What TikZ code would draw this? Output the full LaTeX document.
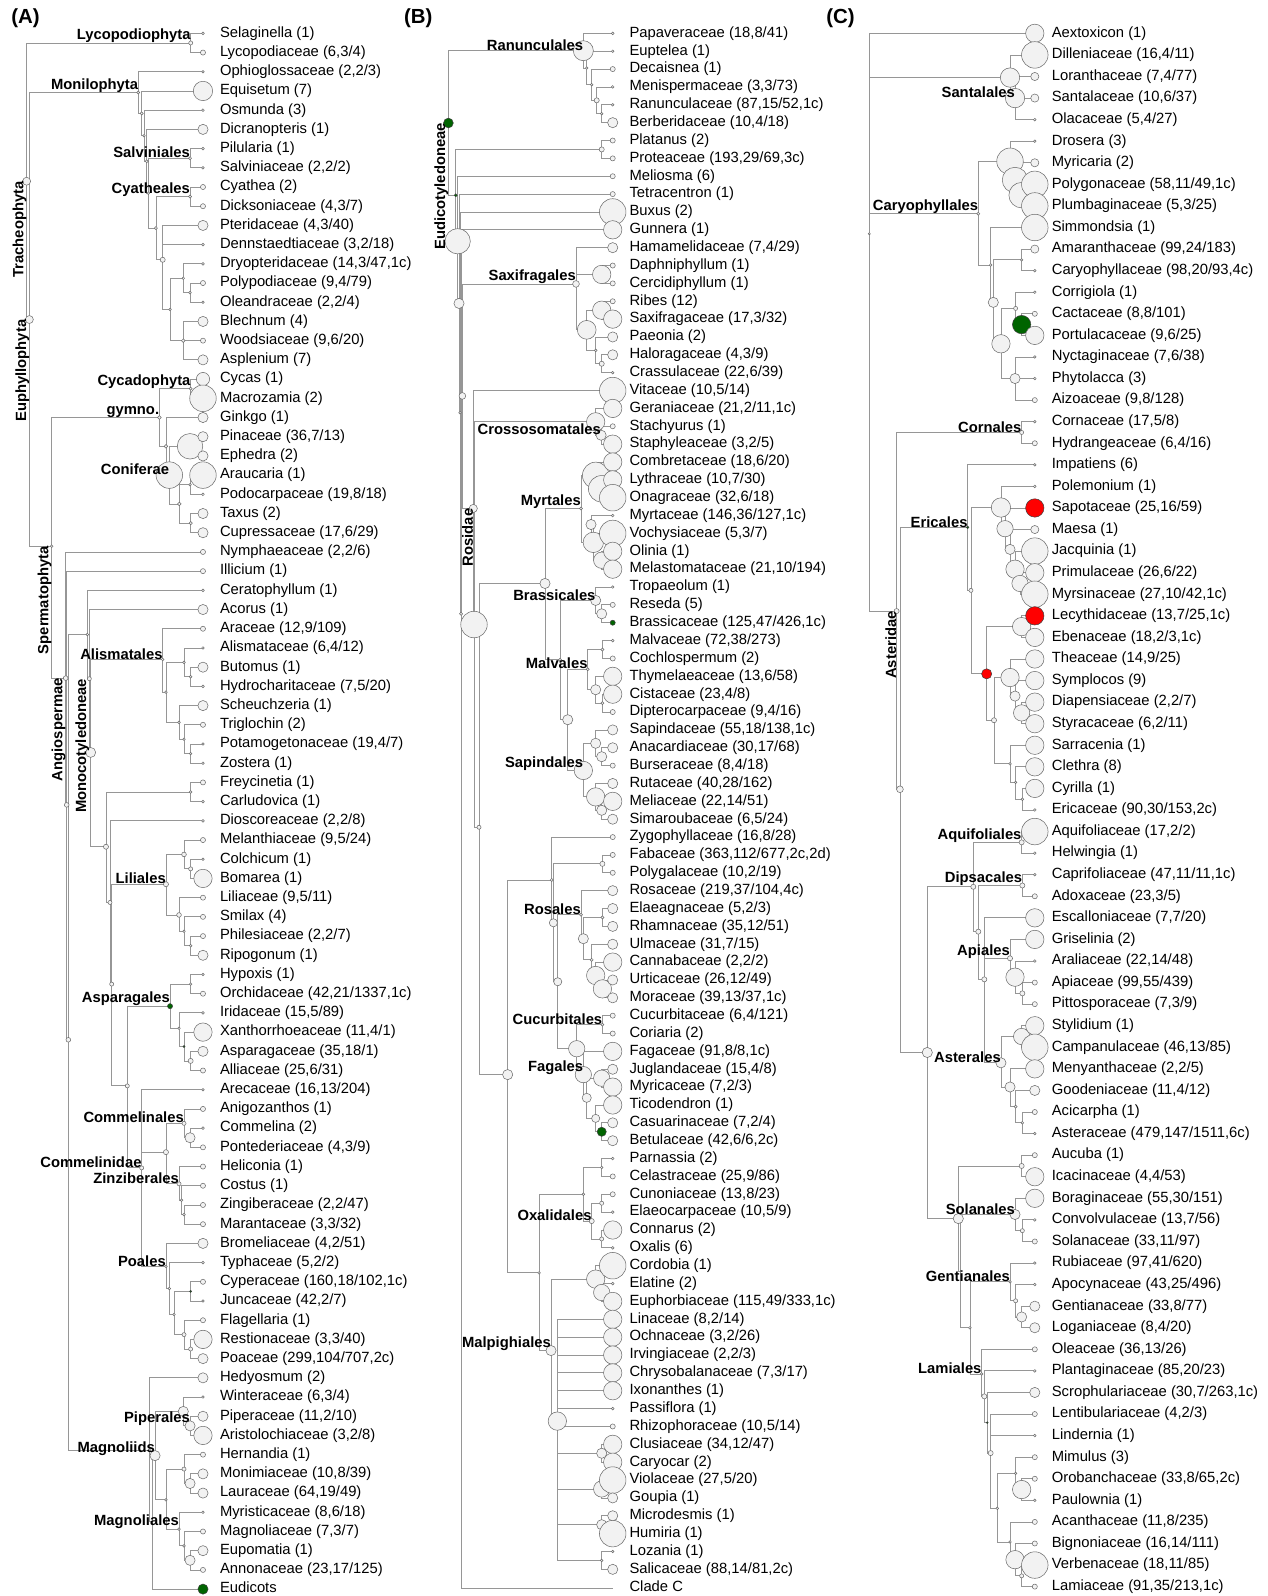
\documentclass[tikz,border=0pt]{standalone}
\usepackage{fontspec}
\setmainfont{Liberation Sans}
\pgfdeclarelayer{bgw}
\pgfdeclarelayer{edges}
\pgfsetlayers{bgw,edges,main}
\definecolor{brc}{RGB}{150,150,150}
\definecolor{dotc}{RGB}{105,105,105}
\definecolor{dotf}{RGB}{242,242,242}
\definecolor{dkg}{RGB}{0,100,0}
\definecolor{rd}{RGB}{255,0,0}
\tikzset{
 dot/.style={circle,draw=dotc,fill=dotf,line width=0.5pt,inner sep=0pt,outer sep=0pt},
 gr/.style={fill=dkg,draw=black!75},
 rdd/.style={fill=rd,draw=black!75},
 br/.style={draw=brc,line width=0.8pt},
 lt/.style={anchor=west,inner sep=0pt,text height=10.5pt,text depth=3pt,font=\fontsize{14.5}{16}\selectfont},
 cl/.style={inner sep=0pt,font=\bfseries\fontsize{14.5}{16}\selectfont},
 pl/.style={font=\bfseries\fontsize{20}{22}\selectfont}
}
\newcommand\In[5][]{\node[dot,minimum size={2*(#5)*1pt},#1] (#2) at (#3,{\ya+(#4)*\yd}) {};}
\newcommand\Lf[5][]{\node[dot,minimum size={2*(#4)*1pt},#1] (#2) at (\lx,{\ya+(#3)*\yd}) {};\node[lt] at (\tx,{\ya+(#3)*\yd}) {#5};}
\newcommand\Ed[2]{\foreach \ch in {#2}{\draw[br] (#1.center) |- (\ch.center);}}
\newcommand\Cl[2]{\node[cl,anchor=south east] at (#1.center) {#2};}
\newcommand\Cr[2]{\node[cl,rotate=90,anchor=south east] at (#1.center) {#2};}
\begin{document}
\begin{tikzpicture}[x=1pt,y=-1pt]
\begin{pgfonlayer}{bgw}
\fill[white] (0,0) rectangle (1243.1,1564.7);
\end{pgfonlayer}
\path[use as bounding box] (0,0) rectangle (1243.1,1564.7);
\node[pl] (pA) at (25,18) {(A)};
\node[pl] (pB) at (410,18) {(B)};
\node[pl] (pC) at (824,18) {(C)};
% ================= PANEL A =================
\def\ya{32.7}\def\yd{18.83}\def\lx{199}\def\tx{215.5}
\In{aTra}{26.1}{7.7}{3.9}
\In{aLyc}{187}{0.5}{2}
\In{aEup}{28.8}{14.9}{3.9}
\In{aMon}{135.6}{3.08}{1.5}
\In{aNe}{138.9}{4.17}{1.5}
\In{aNc}{141.2}{5.33}{1.3}
\In{aNb}{143.8}{6.66}{1.5}
\In{aNa}{145.4}{8.32}{1.3}
\In{aSal}{186.3}{6.5}{1.5}
\In{aNf}{152.9}{10.14}{1.5}
\In{aCya}{186.3}{8.5}{1.5}
\In{aNg}{159.5}{11.79}{2.5}
\In{aNh}{166.7}{14.375}{1.3}
\In{aNi}{179.7}{12.75}{1.3}
\In{aNj}{186.3}{13.5}{1.3}
\In{aNk}{179.7}{16}{1.8}
\In{aSpe}{50.7}{26.7}{1.3}
\In{aGym}{156.2}{20}{1.8}
\In{aCyc}{186.9}{18.5}{1.5}
\In{aNcon}{162.7}{21.5}{1.8}
\In{aCon}{166}{23}{13}
\In{aPE}{186.3}{21.5}{12.5}
\In{aZ}{175.8}{24.5}{1.8}
\In{aAP}{186.3}{23.5}{1.3}
\In{aTC}{187}{25.5}{1.5}
\In{aAng}{64.4}{33.57}{2.3}
\In{aN1}{65.4}{40.17}{2.3}
\In{aN2}{67}{52.4}{2.3}
\In{aC1}{85.6}{31.3}{1.3}
\In{aMono}{87.6}{33.6}{2}
\In{aM1}{88.9}{37.44}{4.9}
\In{aAli}{159.5}{32.6}{1.3}
\In{aA1}{162.7}{34.3}{1.3}
\In{aA2}{180.4}{32.75}{1.3}
\In{aA4}{186.9}{33.5}{1.3}
\In{aA3}{175.5}{35.875}{1.3}
\In{aA5}{180.4}{36.75}{1.3}
\In{aA6}{186.9}{37.5}{1.3}
\In{aM2}{103.9}{42.35}{2.5}
\In{aP1}{186.9}{39.5}{1.3}
\In{aM3}{107.8}{45.25}{2}
\In{aM4}{109.5}{49.5}{2}
\In{aLil}{162.7}{44.3}{2.5}
\In{aL1}{180.4}{42.75}{2.3}
\In{aL1b}{186.9}{43.5}{2}
\In{aL2}{175.5}{45.9}{2.3}
\In{aL2b}{180.4}{46.75}{1.3}
\In{aL2c}{186.9}{47.5}{1.3}
\In{aN382}{124.8}{54.8}{2}
\In[gr]{aAsp}{166.7}{50.65}{2.5}
\In{aAs1}{186.9}{49.5}{1.3}
\In{aAs2}{175.5}{51.8}{1.3}
\In[gr]{aAs3}{180.4}{52.75}{1}
\In{aAs4}{186.9}{53.5}{2.5}
\In{aCom}{138.9}{59.07}{2}
\In{aCm1}{162.7}{58.25}{2.5}
\In{aCml}{180.4}{56.75}{2}
\In{aCm2}{186.3}{57.5}{5}
\In{aZin}{175.5}{59.9}{2}
\In{aZ1}{178}{60.75}{1.3}
\In{aZ2}{180.4}{61.5}{1.3}
\In{aPoa}{162.7}{64.2}{1.3}
\In{aPo1}{166}{65.35}{1.3}
\In{aPo3}{170.6}{66.7}{1.3}
\In[gr]{aPo2}{186.9}{65.5}{1}
\In{aPo4}{180.4}{67.75}{2}
\In{aPo5}{186.9}{68.5}{2}
\In{aH}{146.4}{73.76}{1.3}
\In[coordinate]{aME}{149.7}{77.5}{0}
\In{aMag}{152}{74.05}{5}
\In{aPip}{179.7}{71.75}{5}
\In{aPip2}{186.3}{72.5}{5}
\In{aLM}{162.7}{76.35}{1.3}
\In{aLau}{180.4}{74.75}{2}
\In{aLa2}{186.3}{75.5}{5}
\In{aMgl}{175.5}{77.875}{1.3}
\In{aMa2}{180.4}{78.75}{1.3}
\In{aMa3}{186.3}{79.5}{5}
\Lf{a0}{0}{1.3}{Selaginella (1)}
\Lf{a1}{1}{2.5}{Lycopodiaceae (6,3/4)}
\Lf{a2}{2}{1.3}{Ophioglossaceae (2,2/3)}
\Lf{a3}{3}{9.5}{Equisetum (7)}
\Lf{a4}{4}{1.3}{Osmunda (3)}
\Lf{a5}{5}{5}{Dicranopteris (1)}
\Lf{a6}{6}{1.3}{Pilularia (1)}
\Lf{a7}{7}{1.3}{Salviniaceae (2,2/2)}
\Lf{a8}{8}{2.5}{Cyathea (2)}
\Lf{a9}{9}{2.5}{Dicksoniaceae (4,3/7)}
\Lf{a10}{10}{5}{Pteridaceae (4,3/40)}
\Lf{a11}{11}{1.3}{Dennstaedtiaceae (3,2/18)}
\Lf{a12}{12}{1.3}{Dryopteridaceae (14,3/47,1c)}
\Lf{a13}{13}{2.5}{Polypodiaceae (9,4/79)}
\Lf{a14}{14}{1.3}{Oleandraceae (2,2/4)}
\Lf{a15}{15}{5}{Blechnum (4)}
\Lf{a16}{16}{2.5}{Woodsiaceae (9,6/20)}
\Lf{a17}{17}{5}{Asplenium (7)}
\Lf{a18}{18}{6.5}{Cycas (1)}
\Lf{a19}{19}{13}{Macrozamia (2)}
\Lf{a20}{20}{5}{Ginkgo (1)}
\Lf{a21}{21}{5}{Pinaceae (36,7/13)}
\Lf{a22}{22}{5}{Ephedra (2)}
\Lf{a23}{23}{13}{Araucaria (1)}
\Lf{a24}{24}{1.3}{Podocarpaceae (19,8/18)}
\Lf{a25}{25}{5}{Taxus (2)}
\Lf{a26}{26}{5}{Cupressaceae (17,6/29)}
\Lf{a27}{27}{2.5}{Nymphaeaceae (2,2/6)}
\Lf{a28}{28}{2.5}{Illicium (1)}
\Lf{a29}{29}{1.3}{Ceratophyllum (1)}
\Lf{a30}{30}{5}{Acorus (1)}
\Lf{a31}{31}{2.5}{Araceae (12,9/109)}
\Lf{a32}{32}{1.3}{Alismataceae (6,4/12)}
\Lf{a33}{33}{5}{Butomus (1)}
\Lf{a34}{34}{1.3}{Hydrocharitaceae (7,5/20)}
\Lf{a35}{35}{5}{Scheuchzeria (1)}
\Lf{a36}{36}{2.5}{Triglochin (2)}
\Lf{a37}{37}{1.3}{Potamogetonaceae (19,4/7)}
\Lf{a38}{38}{1.3}{Zostera (1)}
\Lf{a39}{39}{2.5}{Freycinetia (1)}
\Lf{a40}{40}{1.3}{Carludovica (1)}
\Lf{a41}{41}{1.3}{Dioscoreaceae (2,2/8)}
\Lf{a42}{42}{2.5}{Melanthiaceae (9,5/24)}
\Lf{a43}{43}{1.3}{Colchicum (1)}
\Lf{a44}{44}{9}{Bomarea (1)}
\Lf{a45}{45}{2.5}{Liliaceae (9,5/11)}
\Lf{a46}{46}{2.5}{Smilax (4)}
\Lf{a47}{47}{2.5}{Philesiaceae (2,2/7)}
\Lf{a48}{48}{5}{Ripogonum (1)}
\Lf{a49}{49}{1.3}{Hypoxis (1)}
\Lf{a50}{50}{2.5}{Orchidaceae (42,21/1337,1c)}
\Lf{a51}{51}{1.3}{Iridaceae (15,5/89)}
\Lf{a52}{52}{9}{Xanthorrhoeaceae (11,4/1)}
\Lf{a53}{53}{5}{Asparagaceae (35,18/1)}
\Lf{a54}{54}{2.5}{Alliaceae (25,6/31)}
\Lf{a55}{55}{1.3}{Arecaceae (16,13/204)}
\Lf{a56}{56}{2.5}{Anigozanthos (1)}
\Lf{a57}{57}{1.3}{Commelina (2)}
\Lf{a58}{58}{2.5}{Pontederiaceae (4,3/9)}
\Lf{a59}{59}{2.5}{Heliconia (1)}
\Lf{a60}{60}{2.5}{Costus (1)}
\Lf{a61}{61}{2.5}{Zingiberaceae (2,2/47)}
\Lf{a62}{62}{2.5}{Marantaceae (3,3/32)}
\Lf{a63}{63}{5}{Bromeliaceae (4,2/51)}
\Lf{a64}{64}{1.3}{Typhaceae (5,2/2)}
\Lf{a65}{65}{2.5}{Cyperaceae (160,18/102,1c)}
\Lf{a66}{66}{1.3}{Juncaceae (42,2/7)}
\Lf{a67}{67}{2.5}{Flagellaria (1)}
\Lf{a68}{68}{9}{Restionaceae (3,3/40)}
\Lf{a69}{69}{5}{Poaceae (299,104/707,2c)}
\Lf{a70}{70}{5}{Hedyosmum (2)}
\Lf{a71}{71}{1.3}{Winteraceae (6,3/4)}
\Lf{a72}{72}{5}{Piperaceae (11,2/10)}
\Lf{a73}{73}{9}{Aristolochiaceae (3,2/8)}
\Lf{a74}{74}{2.5}{Hernandia (1)}
\Lf{a75}{75}{5}{Monimiaceae (10,8/39)}
\Lf{a76}{76}{5}{Lauraceae (64,19/49)}
\Lf{a77}{77}{1.3}{Myristicaceae (8,6/18)}
\Lf{a78}{78}{2.5}{Magnoliaceae (7,3/7)}
\Lf{a79}{79}{5}{Eupomatia (1)}
\Lf{a80}{80}{2.5}{Annonaceae (23,17/125)}
\Lf[gr]{a81}{81}{5}{Eudicots}
\begin{pgfonlayer}{edges}
\Ed{aTra}{aLyc,aEup}\Ed{aLyc}{a0,a1}\Ed{aEup}{aMon,aSpe}
\Ed{aMon}{a2,aNe}\Ed{aNe}{a3,aNc}\Ed{aNc}{a4,aNb}\Ed{aNb}{a5,aNa}
\Ed{aNa}{aSal,aNf}\Ed{aSal}{a6,a7}\Ed{aNf}{aCya,aNg}\Ed{aCya}{a8,a9}
\Ed{aNg}{a10,a11,aNh}\Ed{aNh}{aNi,aNk}\Ed{aNi}{a12,aNj}\Ed{aNj}{a13,a14}\Ed{aNk}{a15,a16,a17}
\Ed{aSpe}{aGym,aAng}\Ed{aGym}{aCyc,aNcon}\Ed{aCyc}{a18,a19}\Ed{aNcon}{a20,aCon}
\Ed{aCon}{aPE,aZ}\Ed{aPE}{a21,a22}\Ed{aZ}{aAP,aTC}\Ed{aAP}{a23,a24}\Ed{aTC}{a25,a26}
\Ed{aAng}{a27,aN1}\Ed{aN1}{a28,aN2}\Ed{aN2}{aC1,aH}\Ed{aC1}{a29,aMono}\Ed{aMono}{a30,aM1}
\Ed{aM1}{aAli,aM2}\Ed{aAli}{a31,aA1}\Ed{aA1}{aA2,aA3}\Ed{aA2}{a32,aA4}\Ed{aA4}{a33,a34}
\Ed{aA3}{a35,aA5}\Ed{aA5}{a36,aA6}\Ed{aA6}{a37,a38}
\Ed{aM2}{aP1,aM3}\Ed{aP1}{a39,a40}\Ed{aM3}{a41,aM4}\Ed{aM4}{aLil,aN382}
\Ed{aLil}{aL1,aL2}\Ed{aL1}{a42,aL1b}\Ed{aL1b}{a43,a44}\Ed{aL2}{a45,aL2b}\Ed{aL2b}{a46,aL2c}\Ed{aL2c}{a47,a48}
\Ed{aN382}{aAsp,aCom}\Ed{aAsp}{aAs1,aAs2}\Ed{aAs1}{a49,a50}\Ed{aAs2}{a51,aAs3}\Ed{aAs3}{a52,aAs4}\Ed{aAs4}{a53,a54}
\Ed{aCom}{a55,aCm1,aPoa}\Ed{aCm1}{aCml,aZin}\Ed{aCml}{a56,aCm2}\Ed{aCm2}{a57,a58}
\Ed{aZin}{a59,aZ1}\Ed{aZ1}{a60,aZ2}\Ed{aZ2}{a61,a62}
\Ed{aPoa}{a63,aPo1}\Ed{aPo1}{a64,aPo3}\Ed{aPo3}{aPo2,aPo4}\Ed{aPo2}{a65,a66}\Ed{aPo4}{a67,aPo5}\Ed{aPo5}{a68,a69}
\Ed{aH}{a70,aME}\Ed{aME}{aMag,a81}\Ed{aMag}{aPip,aLM}\Ed{aPip}{a71,aPip2}\Ed{aPip2}{a72,a73}
\Ed{aLM}{aLau,aMgl}\Ed{aLau}{a74,aLa2}\Ed{aLa2}{a75,a76}\Ed{aMgl}{a77,aMa2}\Ed{aMa2}{a78,aMa3}\Ed{aMa3}{a79,a80}
\end{pgfonlayer}
\Cl{aLyc}{Lycopodiophyta}\Cl{aMon}{Monilophyta}\Cl{aSal}{Salviniales}\Cl{aCya}{Cyatheales}
\Cl{aCyc}{Cycadophyta}\Cl{aGym}{gymno.}\Cl{aCon}{Coniferae}\Cl{aAli}{Alismatales}
\Cl{aLil}{Liliales}\Cl{aAsp}{Asparagales}\Cl{aCml}{Commelinales}\Cl{aCom}{Commelinidae}
\Cl{aZin}{Zinziberales}\Cl{aPoa}{Poales}\Cl{aPip2}{Piperales}\Cl{aMag}{Magnoliids}\Cl{aMgl}{Magnoliales}
\Cr{aTra}{Tracheophyta}\Cr{aEup}{Euphyllophyta}\Cr{aSpe}{Spermatophyta}\Cr{aAng}{Angiospermae}\Cr{aMono}{Monocotyledoneae}
% ================= PANEL B =================
\def\ya{32.7}\def\yd{17.51}\def\lx{600.7}\def\tx{617}
\In[gr]{bEud}{439.6}{5.02}{4.8}
\In{bRan}{571.9}{0.97}{9.8}
\In{bR1}{575.2}{1.94}{1.3}
\In{bR2}{580.1}{2.875}{1.3}
\In{bR3}{585}{3.75}{2.5}
\In{bR4}{589.9}{4.5}{1.3}
\In[gr]{bE1}{446.8}{9.07}{1.5}
\In{bPro}{589.9}{6.5}{2.5}
\In{bE2}{448.7}{11.64}{12.4}
\In{bE3}{450}{15.12}{5}
\In{bE4}{451}{21.24}{1.3}
\In{bE5}{452}{32.5}{1.5}
\In[coordinate]{bE6}{452.7}{53.7}{0}
\In{bS}{453.3}{20.3}{3.3}
\In{bSax}{564.7}{14.03}{3.3}
\In{bSx2}{589.9}{13.5}{9}
\In{bSx3}{575.2}{16.6}{9.2}
\In{bSx6}{589.9}{15.5}{9}
\In{bSx4}{584}{17.75}{1.3}
\In{bSx5}{589.9}{18.5}{2.5}
\In{bRos}{464}{26.6}{4}
\In{bRR}{464.7}{33.1}{13}
\In{bGC}{584}{21.75}{9}
\In{bCro}{589.3}{22.5}{5}
\In{bRR2}{469.6}{44.45}{2}
\In{bMM}{534.3}{30.8}{5}
\In{bMyr}{569.6}{26.6}{1.5}
\In{bMy1}{584}{24.75}{13}
\In{bMy1b}{589.9}{25.5}{13}
\In{bMy2}{581.7}{28.5}{10}
\In{bMy2a}{579.4}{27.5}{5}
\In{bMy2b}{589.9}{29.5}{8}
\In{bBMS}{549}{35.07}{1.5}
\In{bBra}{584}{31.75}{5}
\In{bBr2}{589.9}{32.5}{5}
\In{bMS}{556.6}{38.43}{5}
\In{bMal}{576.2}{35.6}{1.5}
\In{bMv1}{590.6}{34.5}{1.5}
\In{bMv2}{584}{36.75}{5}
\In{bMv3}{590.6}{37.5}{1.5}
\In{bSap}{571.9}{41.27}{9}
\In{bSp1}{584}{39.75}{5}
\In{bSp3}{589.9}{40.5}{5}
\In{bSp2}{584}{42.75}{9}
\In{bSp4}{589.9}{43.5}{5}
\In{bFF}{497.7}{58.3}{5}
\In{bRf}{540.9}{47.4}{1.5}
\In{bFP}{590.6}{46.5}{2.5}
\In{bQ}{542.5}{49.8}{4}
\In{bRCF}{546.8}{53.1}{4}
\In{bRsl}{569.6}{49.35}{1.5}
\In{bRs1}{571.9}{50.69}{5}
\In{bER}{590.6}{49.5}{1.5}
\In{bRs2}{580.1}{51.875}{1.5}
\In{bRs3}{584}{52.75}{9}
\In{bRs4}{590.6}{53.5}{9}
\In{bCF}{565.4}{56.85}{8}
\In{bCuc}{590.6}{55.5}{1.5}
\In{bFag}{571.9}{58.3}{8}
\In{bFg2}{575.2}{59.6}{4.5}
\In{bFg3}{589.9}{58.5}{8}
\In{bFg4}{584}{60.75}{4}
\In[gr]{bFg5}{589.9}{61.5}{4.5}
\In{bOM}{528.5}{69.4}{1.3}
\In{bOx0}{571.9}{65}{1.3}
\In{bCel}{589.9}{63.5}{1.3}
\In{bOxa}{580.1}{66.5}{2.5}
\In{bCE}{589.9}{65.5}{2}
\In{bCO}{589.9}{67.5}{2}
\In{bMpg}{540.2}{73.75}{5}
\In{bMp1}{584}{69.75}{9}
\In{bMp1b}{589.9}{70.5}{8}
\In{bMp2}{546.4}{77.7}{9}
\In{bMp3}{589.9}{79.5}{5}
\In{bMp4}{589.9}{81.5}{8}
\In{bMp5}{589.9}{83.5}{5}
\In{bMp6}{589.9}{85.5}{1.3}
\Lf{b0}{0}{1.3}{Papaveraceae (18,8/41)}
\Lf{b1}{1}{1.3}{Euptelea (1)}
\Lf{b2}{2}{2.5}{Decaisnea (1)}
\Lf{b3}{3}{1.3}{Menispermaceae (3,3/73)}
\Lf{b4}{4}{1.3}{Ranunculaceae (87,15/52,1c)}
\Lf{b5}{5}{5}{Berberidaceae (10,4/18)}
\Lf{b6}{6}{2.5}{Platanus (2)}
\Lf{b7}{7}{2.5}{Proteaceae (193,29/69,3c)}
\Lf{b8}{8}{2.5}{Meliosma (6)}
\Lf{b9}{9}{2.5}{Tetracentron (1)}
\Lf{b10}{10}{13}{Buxus (2)}
\Lf{b11}{11}{9}{Gunnera (1)}
\Lf{b12}{12}{5}{Hamamelidaceae (7,4/29)}
\Lf{b13}{13}{2.5}{Daphniphyllum (1)}
\Lf{b14}{14}{2.5}{Cercidiphyllum (1)}
\Lf{b15}{15}{2.5}{Ribes (12)}
\Lf{b16}{16}{9}{Saxifragaceae (17,3/32)}
\Lf{b17}{17}{5}{Paeonia (2)}
\Lf{b18}{18}{5}{Haloragaceae (4,3/9)}
\Lf{b19}{19}{1.3}{Crassulaceae (22,6/39)}
\Lf{b20}{20}{13}{Vitaceae (10,5/14)}
\Lf{b21}{21}{9}{Geraniaceae (21,2/11,1c)}
\Lf{b22}{22}{2.5}{Stachyurus (1)}
\Lf{b23}{23}{9}{Staphyleaceae (3,2/5)}
\Lf{b24}{24}{9}{Combretaceae (18,6/20)}
\Lf{b25}{25}{9}{Lythraceae (10,7/30)}
\Lf{b26}{26}{13}{Onagraceae (32,6/18)}
\Lf{b27}{27}{1.3}{Myrtaceae (146,36/127,1c)}
\Lf{b28}{28}{13}{Vochysiaceae (5,3/7)}
\Lf{b29}{29}{9}{Olinia (1)}
\Lf{b30}{30}{9}{Melastomataceae (21,10/194)}
\Lf{b31}{31}{1.3}{Tropaeolum (1)}
\Lf{b32}{32}{2.5}{Reseda (5)}
\Lf[gr]{b33}{33}{2.5}{Brassicaceae (125,47/426,1c)}
\Lf{b34}{34}{1.3}{Malvaceae (72,38/273)}
\Lf{b35}{35}{2.5}{Cochlospermum (2)}
\Lf{b36}{36}{9}{Thymelaeaceae (13,6/58)}
\Lf{b37}{37}{9}{Cistaceae (23,4/8)}
\Lf{b38}{38}{2.5}{Dipterocarpaceae (9,4/16)}
\Lf{b39}{39}{5}{Sapindaceae (55,18/138,1c)}
\Lf{b40}{40}{5}{Anacardiaceae (30,17/68)}
\Lf{b41}{41}{2.5}{Burseraceae (8,4/18)}
\Lf{b42}{42}{5}{Rutaceae (40,28/162)}
\Lf{b43}{43}{9}{Meliaceae (22,14/51)}
\Lf{b44}{44}{5}{Simaroubaceae (6,5/24)}
\Lf{b45}{45}{2.5}{Zygophyllaceae (16,8/28)}
\Lf{b46}{46}{2.5}{Fabaceae (363,112/677,2c,2d)}
\Lf{b47}{47}{2.5}{Polygalaceae (10,2/19)}
\Lf{b48}{48}{5}{Rosaceae (219,37/104,4c)}
\Lf{b49}{49}{5}{Elaeagnaceae (5,2/3)}
\Lf{b50}{50}{5}{Rhamnaceae (35,12/51)}
\Lf{b51}{51}{5}{Ulmaceae (31,7/15)}
\Lf{b52}{52}{9}{Cannabaceae (2,2/2)}
\Lf{b53}{53}{5}{Urticaceae (26,12/49)}
\Lf{b54}{54}{5}{Moraceae (39,13/37,1c)}
\Lf{b55}{55}{2.5}{Cucurbitaceae (6,4/121)}
\Lf{b56}{56}{2.5}{Coriaria (2)}
\Lf{b57}{57}{9}{Fagaceae (91,8/8,1c)}
\Lf{b58}{58}{5}{Juglandaceae (15,4/8)}
\Lf{b59}{59}{9}{Myricaceae (7,2/3)}
\Lf{b60}{60}{9}{Ticodendron (1)}
\Lf{b61}{61}{5}{Casuarinaceae (7,2/4)}
\Lf{b62}{62}{5}{Betulaceae (42,6/6,2c)}
\Lf{b63}{63}{1.3}{Parnassia (2)}
\Lf{b64}{64}{2.5}{Celastraceae (25,9/86)}
\Lf{b65}{65}{2.5}{Cunoniaceae (13,8/23)}
\Lf{b66}{66}{1.3}{Elaeocarpaceae (10,5/9)}
\Lf{b67}{67}{9}{Connarus (2)}
\Lf{b68}{68}{1.3}{Oxalis (6)}
\Lf{b69}{69}{13}{Cordobia (1)}
\Lf{b70}{70}{1.3}{Elatine (2)}
\Lf{b71}{71}{9}{Euphorbiaceae (115,49/333,1c)}
\Lf{b72}{72}{9}{Linaceae (8,2/14)}
\Lf{b73}{73}{9}{Ochnaceae (3,2/26)}
\Lf{b74}{74}{9}{Irvingiaceae (2,2/3)}
\Lf{b75}{75}{9}{Chrysobalanaceae (7,3/17)}
\Lf{b76}{76}{9}{Ixonanthes (1)}
\Lf{b77}{77}{1.3}{Passiflora (1)}
\Lf{b78}{78}{2.5}{Rhizophoraceae (10,5/14)}
\Lf{b79}{79}{9}{Clusiaceae (34,12/47)}
\Lf{b80}{80}{9}{Caryocar (2)}
\Lf{b81}{81}{13}{Violaceae (27,5/20)}
\Lf{b82}{82}{5}{Goupia (1)}
\Lf{b83}{83}{5}{Microdesmis (1)}
\Lf{b84}{84}{13}{Humiria (1)}
\Lf{b85}{85}{1.3}{Lozania (1)}
\Lf{b86}{86}{5}{Salicaceae (88,14/81,2c)}
\node[coordinate] (b87) at (\lx,{\ya+87.05*\yd}) {};
\node[lt] (b87t) at (\tx,{\ya+87.05*\yd}) {Clade C};
\begin{pgfonlayer}{edges}
\Ed{bEud}{bRan,bE1}\Ed{bRan}{b0,bR1}\Ed{bR1}{b1,bR2}\Ed{bR2}{b2,bR3}\Ed{bR3}{b3,bR4}\Ed{bR4}{b4,b5}
\Ed{bE1}{bPro,bE2}\Ed{bPro}{b6,b7}\Ed{bE2}{b8,bE3}\Ed{bE3}{b9,bE4}\Ed{bE4}{b10,bE5}\Ed{bE5}{b11,bE6}
\Ed{bE6}{bS,b87}\Ed{bS}{bSax,bRos}
\Ed{bSax}{b12,bSx2,bSx3}\Ed{bSx2}{b13,b14}\Ed{bSx3}{bSx6,bSx4}\Ed{bSx6}{b15,b16}\Ed{bSx4}{b17,bSx5}\Ed{bSx5}{b18,b19}
\Ed{bRos}{b20,bRR}\Ed{bRR}{bGC,bRR2}\Ed{bGC}{b21,bCro}\Ed{bCro}{b22,b23}\Ed{bRR2}{bMM,bFF}
\Ed{bMM}{bMyr,bBMS}\Ed{bMyr}{bMy1,bMy2}\Ed{bMy1}{b24,bMy1b}\Ed{bMy1b}{b25,b26}
\Ed{bMy2}{bMy2a,bMy2b}\Ed{bMy2a}{b27,b28}\Ed{bMy2b}{b29,b30}
\Ed{bBMS}{bBra,bMS}\Ed{bBra}{b31,bBr2}\Ed{bBr2}{b32,b33}\Ed{bMS}{bMal,bSap}
\Ed{bMal}{bMv1,bMv2}\Ed{bMv1}{b34,b35}\Ed{bMv2}{b36,bMv3}\Ed{bMv3}{b37,b38}
\Ed{bSap}{bSp1,bSp2}\Ed{bSp1}{b39,bSp3}\Ed{bSp3}{b40,b41}\Ed{bSp2}{b42,bSp4}\Ed{bSp4}{b43,b44}
\Ed{bFF}{bRf,bOM}\Ed{bRf}{b45,bQ}\Ed{bQ}{bFP,bRCF}\Ed{bFP}{b46,b47}\Ed{bRCF}{bRsl,bCF}
\Ed{bRsl}{b48,bRs1}\Ed{bRs1}{bER,bRs2}\Ed{bER}{b49,b50}\Ed{bRs2}{b51,bRs3}\Ed{bRs3}{b52,bRs4}\Ed{bRs4}{b53,b54}
\Ed{bCF}{bCuc,bFag}\Ed{bCuc}{b55,b56}\Ed{bFag}{b57,bFg2}\Ed{bFg2}{bFg3,bFg4}\Ed{bFg3}{b58,b59}\Ed{bFg4}{b60,bFg5}\Ed{bFg5}{b61,b62}
\Ed{bOM}{bOx0,bMpg}\Ed{bOx0}{bCel,bOxa}\Ed{bCel}{b63,b64}\Ed{bOxa}{bCE,bCO}\Ed{bCE}{b65,b66}\Ed{bCO}{b67,b68}
\Ed{bMpg}{bMp1,bMp2}\Ed{bMp1}{b69,bMp1b}\Ed{bMp1b}{b70,b71}
\Ed{bMp2}{b72,b73,b74,b75,b76,b77,b78,bMp3,bMp4,bMp5,bMp6}
\Ed{bMp3}{b79,b80}\Ed{bMp4}{b81,b82}\Ed{bMp5}{b83,b84}\Ed{bMp6}{b85,b86}
\end{pgfonlayer}
\Cl{bRan}{Ranunculales}\Cl{bSax}{Saxifragales}\Cl{bCro}{Crossosomatales}\Cl{bMyr}{Myrtales}
\Cl{bBra}{Brassicales}\Cl{bMal}{Malvales}\Cl{bSap}{Sapindales}\Cl{bRsl}{Rosales}
\Cl{bCuc}{Cucurbitales}\Cl{bFag}{Fagales}\Cl{bOxa}{Oxalidales}\Cl{bMpg}{Malpighiales}
\Cr{bEud}{Eudicotyledoneae}\Cr{bRos}{Rosidae}
% ================= PANEL C =================
\def\ya{32.7}\def\yd{21.15}\def\lx{1014.5}\def\tx{1031}
\In{cC0}{852.3}{9.29}{1}
\In{cDS}{990.2}{2.05}{9.5}
\In{cSan}{995.1}{3}{9.5}
\In{cCar}{959.1}{8.36}{1.5}
\In{cCy1}{990.2}{5.93}{13}
\In{cCy1b}{995.1}{6.8}{12.5}
\In{cCy1c}{1001.6}{7.5}{12.5}
\In{cCy2}{971.2}{10.74}{1.3}
\In{cCy3}{973.8}{12.47}{5}
\In{cAC}{1001.6}{10.5}{1.3}
\In{cCy4}{981.3}{14.39}{9}
\In{cCy5}{995.7}{12.75}{2}
\In[gr]{cCy7}{1001.6}{13.5}{9}
\In{cCy6}{995.1}{16}{5}
\In{cAst}{879}{26.78}{2.5}
\In{cCor}{1001.6}{18.5}{2}
\In{cX}{882.3}{35.04}{3.3}
\In[gr]{cEri}{948.7}{22.9}{1.2}
\In{cEr1}{951.9}{25.82}{2}
\In{cEr2}{981.3}{21.98}{9.5}
\In{cEr2b}{985.3}{22.96}{8}
\In{cEr2c}{990.2}{23.92}{5}
\In{cEr2d}{995.1}{24.84}{9}
\In{cEr2e}{1000}{25.5}{8}
\In[rdd]{cEr3}{967.3}{29.69}{5}
\In{cEr3a}{1001.6}{27.5}{9}
\In{cEr3b}{974.5}{31.84}{2.5}
\In{cEr4}{990.2}{29.86}{9}
\In{cEr4b}{995.1}{30.72}{5}
\In{cEr4c}{1001.6}{31.5}{8}
\In{cEr5}{990.2}{33.86}{1.3}
\In{cEr5b}{995.7}{34.72}{1.3}
\In{cEr5c}{1002.3}{35.5}{1.3}
\In{cY}{909.1}{47.24}{5}
\In{cCam}{954.2}{39.56}{2.5}
\In{cAqu}{1001.6}{37.5}{2.5}
\In{cCp2}{959.1}{41.64}{2.5}
\In{cDip}{1002.3}{39.5}{2.5}
\In{cCp3}{965}{43.85}{2.5}
\In{cApi}{990.2}{42.875}{2.5}
\In{cAp2}{995.1}{43.75}{9}
\In{cAp3}{1002.3}{44.5}{2.5}
\In{cAsl}{981.3}{47.72}{5}
\In{cAs1}{1001.6}{46.5}{8}
\In{cAs2}{990.2}{48.84}{5}
\In{cAs3}{995.7}{49.75}{1.5}
\In{cAs4}{1002.3}{50.5}{1.3}
\In{cLam}{939.5}{54.94}{5}
\In{cGar}{1001.6}{52.5}{2.5}
\In[coordinate]{cLm1}{941.8}{57.37}{0}
\In{cSol}{995.1}{54.75}{5}
\In{cSl2}{1002.3}{55.5}{2}
\In{cLm2}{950.9}{60}{1.3}
\In{cGen}{990.2}{57.87}{1.3}
\In{cGn2}{995.7}{58.75}{2}
\In{cGn3}{1001.6}{59.5}{5}
\In{cLml}{962.4}{62.14}{1.3}
\In{cLm3}{965}{63.18}{2.5}
\In[gr]{cLm4}{967.9}{64.4}{0.9}
\In{cLm5}{971.2}{65.81}{2.5}
\In{cLm6}{977.7}{68.37}{1.3}
\In{cLm7}{995.7}{66.75}{1.3}
\In{cLm8}{1001.6}{67.5}{9}
\In{cLm9}{990.2}{69.93}{1.3}
\In{cLm10}{995.1}{70.75}{9}
\In{cLm11}{1001.6}{71.5}{2}
\Lf{c0}{0}{9}{Aextoxicon (1)}
\Lf{c1}{1}{13}{Dilleniaceae (16,4/11)}
\Lf{c2}{2}{4}{Loranthaceae (7,4/77)}
\Lf{c3}{3}{4}{Santalaceae (10,6/37)}
\Lf{c4}{4}{1.3}{Olacaceae (5,4/27)}
\Lf{c5}{5}{1.3}{Drosera (3)}
\Lf{c6}{6}{4}{Myricaria (2)}
\Lf{c7}{7}{13}{Polygonaceae (58,11/49,1c)}
\Lf{c8}{8}{13}{Plumbaginaceae (5,3/25)}
\Lf{c9}{9}{13}{Simmondsia (1)}
\Lf{c10}{10}{4}{Amaranthaceae (99,24/183)}
\Lf{c11}{11}{1.3}{Caryophyllaceae (98,20/93,4c)}
\Lf{c12}{12}{1.3}{Corrigiola (1)}
\Lf{c13}{13}{2.5}{Cactaceae (8,8/101)}
\Lf{c14}{14}{9}{Portulacaceae (9,6/25)}
\Lf{c15}{15}{1.3}{Nyctaginaceae (7,6/38)}
\Lf{c16}{16}{1.3}{Phytolacca (3)}
\Lf{c17}{17}{2.5}{Aizoaceae (9,8/128)}
\Lf{c18}{18}{1.3}{Cornaceae (17,5/8)}
\Lf{c19}{19}{2.5}{Hydrangeaceae (6,4/16)}
\Lf{c20}{20}{1.3}{Impatiens (6)}
\Lf{c21}{21}{1.3}{Polemonium (1)}
\Lf[rdd]{c22}{22}{9}{Sapotaceae (25,16/59)}
\Lf{c23}{23}{4}{Maesa (1)}
\Lf{c24}{24}{13}{Jacquinia (1)}
\Lf{c25}{25}{9}{Primulaceae (26,6/22)}
\Lf{c26}{26}{13}{Myrsinaceae (27,10/42,1c)}
\Lf[rdd]{c27}{27}{9}{Lecythidaceae (13,7/25,1c)}
\Lf{c28}{28}{9}{Ebenaceae (18,2/3,1c)}
\Lf{c29}{29}{9}{Theaceae (14,9/25)}
\Lf{c30}{30}{9}{Symplocos (9)}
\Lf{c31}{31}{9}{Diapensiaceae (2,2/7)}
\Lf{c32}{32}{9}{Styracaceae (6,2/11)}
\Lf{c33}{33}{9}{Sarracenia (1)}
\Lf{c34}{34}{9}{Clethra (8)}
\Lf{c35}{35}{9}{Cyrilla (1)}
\Lf{c36}{36}{1.3}{Ericaceae (90,30/153,2c)}
\Lf{c37}{37}{13}{Aquifoliaceae (17,2/2)}
\Lf{c38}{38}{1.3}{Helwingia (1)}
\Lf{c39}{39}{1.3}{Caprifoliaceae (47,11/11,1c)}
\Lf{c40}{40}{2.5}{Adoxaceae (23,3/5)}
\Lf{c41}{41}{9}{Escalloniaceae (7,7/20)}
\Lf{c42}{42}{9}{Griselinia (2)}
\Lf{c43}{43}{1.3}{Araliaceae (22,14/48)}
\Lf{c44}{44}{2.5}{Apiaceae (99,55/439)}
\Lf{c45}{45}{2.5}{Pittosporaceae (7,3/9)}
\Lf{c46}{46}{9}{Stylidium (1)}
\Lf{c47}{47}{13}{Campanulaceae (46,13/85)}
\Lf{c48}{48}{9}{Menyanthaceae (2,2/5)}
\Lf{c49}{49}{5}{Goodeniaceae (11,4/12)}
\Lf{c50}{50}{2.5}{Acicarpha (1)}
\Lf{c51}{51}{1.3}{Asteraceae (479,147/1511,6c)}
\Lf{c52}{52}{2.5}{Aucuba (1)}
\Lf{c53}{53}{9}{Icacinaceae (4,4/53)}
\Lf{c54}{54}{9}{Boraginaceae (55,30/151)}
\Lf{c55}{55}{1.3}{Convolvulaceae (13,7/56)}
\Lf{c56}{56}{2.5}{Solanaceae (33,11/97)}
\Lf{c57}{57}{1.3}{Rubiaceae (97,41/620)}
\Lf{c58}{58}{1.3}{Apocynaceae (43,25/496)}
\Lf{c59}{59}{5}{Gentianaceae (33,8/77)}
\Lf{c60}{60}{5}{Loganiaceae (8,4/20)}
\Lf{c61}{61}{2.5}{Oleaceae (36,13/26)}
\Lf{c62}{62}{1.3}{Plantaginaceae (85,20/23)}
\Lf{c63}{63}{5}{Scrophulariaceae (30,7/263,1c)}
\Lf{c64}{64}{2.5}{Lentibulariaceae (4,2/3)}
\Lf{c65}{65}{1.3}{Lindernia (1)}
\Lf{c66}{66}{2.5}{Mimulus (3)}
\Lf{c67}{67}{2.5}{Orobanchaceae (33,8/65,2c)}
\Lf{c68}{68}{1.3}{Paulownia (1)}
\Lf{c69}{69}{2.5}{Acanthaceae (11,8/235)}
\Lf{c70}{70}{2.5}{Bignoniaceae (16,14/111)}
\Lf{c71}{71}{13}{Verbenaceae (18,11/85)}
\Lf{c72}{72}{2.5}{Lamiaceae (91,35/213,1c)}
\begin{pgfonlayer}{edges}
\Ed{cC0}{c0,cDS,cCar,cAst}\Ed{cDS}{c1,cSan}\Ed{cSan}{c2,c3,c4}
\Ed{cCar}{cCy1,cCy2}\Ed{cCy1}{c5,cCy1b}\Ed{cCy1b}{c6,cCy1c}\Ed{cCy1c}{c7,c8}
\Ed{cCy2}{c9,cCy3}\Ed{cCy3}{cAC,cCy4}\Ed{cAC}{c10,c11}\Ed{cCy4}{cCy5,cCy6}\Ed{cCy5}{c12,cCy7}\Ed{cCy7}{c13,c14}\Ed{cCy6}{c15,c16,c17}
\Ed{cAst}{cCor,cX}\Ed{cCor}{c18,c19}\Ed{cX}{cEri,cY}
\Ed{cEri}{c20,cEr1}\Ed{cEr1}{cEr2,cEr3}\Ed{cEr2}{c21,cEr2b}\Ed{cEr2b}{c22,cEr2c}\Ed{cEr2c}{c23,cEr2d}\Ed{cEr2d}{c24,cEr2e}\Ed{cEr2e}{c25,c26}
\Ed{cEr3}{cEr3a,cEr3b}\Ed{cEr3a}{c27,c28}\Ed{cEr3b}{cEr4,cEr5}\Ed{cEr4}{c29,cEr4b}\Ed{cEr4b}{c30,cEr4c}\Ed{cEr4c}{c31,c32}
\Ed{cEr5}{c33,cEr5b}\Ed{cEr5b}{c34,cEr5c}\Ed{cEr5c}{c35,c36}
\Ed{cY}{cCam,cLam}\Ed{cCam}{cAqu,cCp2}\Ed{cAqu}{c37,c38}\Ed{cCp2}{cDip,cCp3}\Ed{cDip}{c39,c40}
\Ed{cCp3}{c41,cApi,cAsl}\Ed{cApi}{c42,cAp2}\Ed{cAp2}{c43,cAp3}\Ed{cAp3}{c44,c45}
\Ed{cAsl}{cAs1,cAs2}\Ed{cAs1}{c46,c47}\Ed{cAs2}{c48,cAs3}\Ed{cAs3}{c49,cAs4}\Ed{cAs4}{c50,c51}
\Ed{cLam}{cGar,cLm1}\Ed{cGar}{c52,c53}\Ed{cLm1}{cSol,cLm2}\Ed{cSol}{c54,cSl2}\Ed{cSl2}{c55,c56}
\Ed{cLm2}{cGen,cLml}\Ed{cGen}{c57,cGn2}\Ed{cGn2}{c58,cGn3}\Ed{cGn3}{c59,c60}
\Ed{cLml}{c61,cLm3}\Ed{cLm3}{c62,cLm4}\Ed{cLm4}{c63,cLm5}\Ed{cLm5}{c64,c65,cLm6}
\Ed{cLm6}{cLm7,cLm9}\Ed{cLm7}{c66,cLm8}\Ed{cLm8}{c67,c68}\Ed{cLm9}{c69,cLm10}\Ed{cLm10}{c70,cLm11}\Ed{cLm11}{c71,c72}
\end{pgfonlayer}
\Cl{cSan}{Santalales}\Cl{cCar}{Caryophyllales}\Cl{cCor}{Cornales}\Cl{cEri}{Ericales}
\Cl{cAqu}{Aquifoliales}\Cl{cDip}{Dipsacales}\Cl{cApi}{Apiales}\Cl{cAsl}{Asterales}
\Cl{cSol}{Solanales}\Cl{cGen}{Gentianales}\Cl{cLml}{Lamiales}
\Cr{cAst}{Asteridae}
\end{tikzpicture}
\end{document}
